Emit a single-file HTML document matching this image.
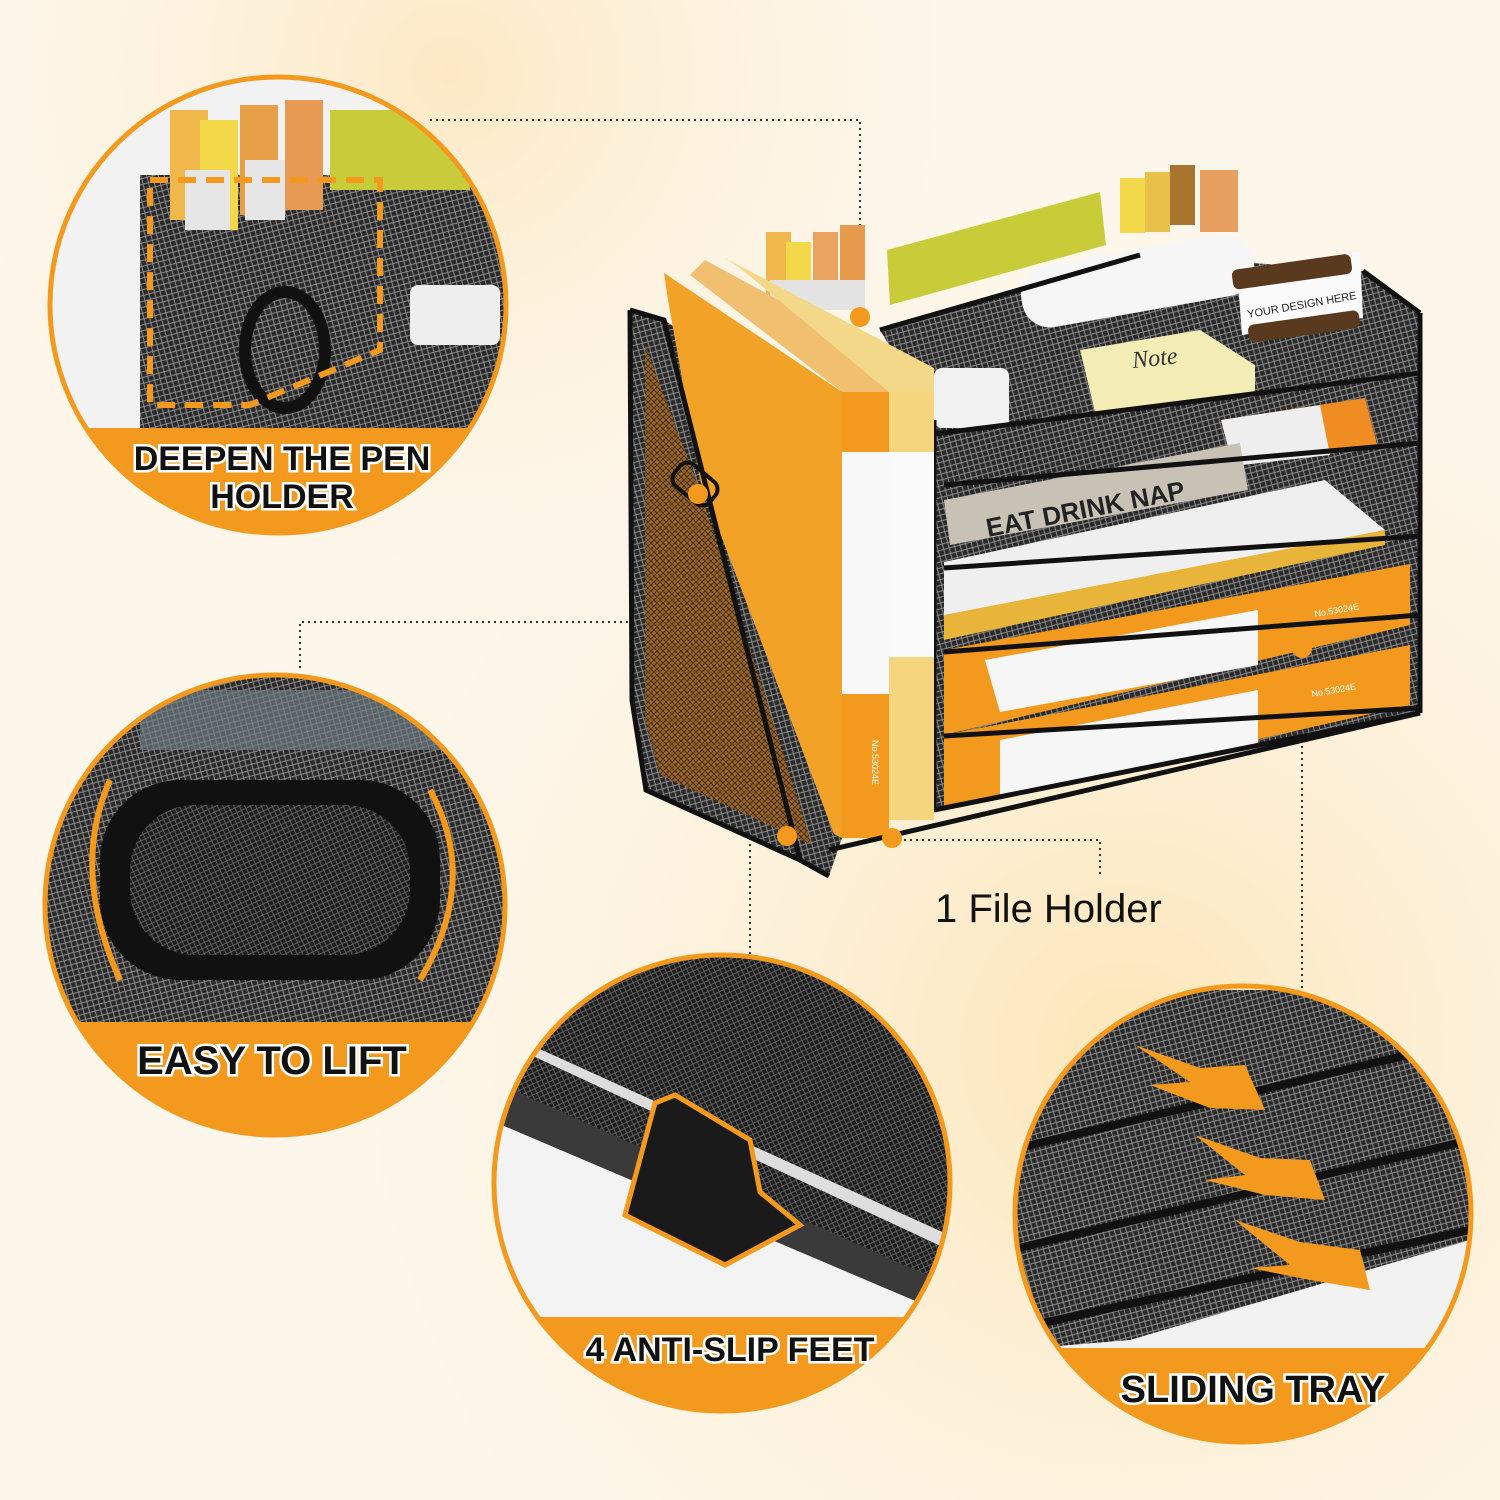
<!DOCTYPE html>
<html><head><meta charset="utf-8"><style>
html,body{margin:0;padding:0;width:1500px;height:1500px;overflow:hidden;background:#fdf6ea}
svg{display:block}
.lbl{font-family:"Liberation Sans",sans-serif;font-weight:bold;fill:#111;stroke:#fff;stroke-width:5px;paint-order:stroke;text-anchor:middle}
</style></head><body>
<svg width="1500" height="1500" viewBox="0 0 1500 1500" xmlns="http://www.w3.org/2000/svg">
<defs>
<radialGradient id="bg1" cx="0.75" cy="0.7" r="0.6"><stop offset="0" stop-color="#fde6b8"/><stop offset="1" stop-color="#fdf6ea" stop-opacity="0"/></radialGradient>
<radialGradient id="bg2" cx="0.3" cy="0.05" r="0.4"><stop offset="0" stop-color="#fde9c4"/><stop offset="1" stop-color="#fdf6ea" stop-opacity="0"/></radialGradient>
<pattern id="mesh" width="8" height="8" patternUnits="userSpaceOnUse" patternTransform="rotate(30)">
<rect width="8" height="8" fill="#2a2a2a"/><path d="M0 0L8 8M8 0L0 8" stroke="#8a8a8a" stroke-width="1"/></pattern>
<pattern id="meshd" width="7" height="7" patternUnits="userSpaceOnUse" patternTransform="rotate(20)">
<rect width="7" height="7" fill="#1e1e1e"/><path d="M0 0L7 7M7 0L0 7" stroke="#666" stroke-width="0.8"/></pattern>
<pattern id="mesho" width="6" height="6" patternUnits="userSpaceOnUse">
<rect width="6" height="6" fill="#a8661c"/><path d="M0 0L6 6M6 0L0 6" stroke="#3a2a18" stroke-width="0.8"/></pattern>
<clipPath id="c1"><circle cx="278" cy="305" r="228"/></clipPath>
<clipPath id="c2"><circle cx="275" cy="905" r="230"/></clipPath>
<clipPath id="c3"><circle cx="722" cy="1183" r="228"/></clipPath>
<clipPath id="c4"><circle cx="1243" cy="1214" r="228"/></clipPath>
</defs>
<rect width="1500" height="1500" fill="#fdf6ea"/>
<rect width="1500" height="1500" fill="url(#bg1)"/>
<rect width="1500" height="1500" fill="url(#bg2)"/>

<!-- connectors -->
<g stroke="#333" stroke-width="2" stroke-dasharray="2 4" fill="none">
<path d="M430 120H860V317"/>
<path d="M300 668V622H698V494"/>
<path d="M750 960V836H787"/>
<path d="M892 840H1100V875"/>
<path d="M1302 650V1000"/>
</g>

<!-- circle 1 -->
<g clip-path="url(#c1)">
<rect x="40" y="70" width="480" height="470" fill="#f2f2f2"/>
<rect x="140" y="175" width="380" height="255" fill="url(#mesh)"/>
<rect x="330" y="110" width="140" height="80" fill="#c9cc3a"/>
<rect x="170" y="110" width="38" height="110" fill="#f0b84a"/><rect x="200" y="120" width="38" height="110" fill="#f3d94a"/>
<rect x="240" y="105" width="38" height="110" fill="#e8a048"/><rect x="285" y="100" width="38" height="110" fill="#e79a54"/>
<rect x="185" y="170" width="45" height="60" fill="#e6e6e6"/><rect x="245" y="160" width="40" height="60" fill="#e6e6e6"/>
<rect x="410" y="285" width="90" height="60" rx="8" fill="#eee"/>
<ellipse cx="285" cy="350" rx="40" ry="58" fill="none" stroke="#111" stroke-width="12"/>
<path d="M150 180H380V350L250 405H150Z" fill="none" stroke="#f39a1e" stroke-width="6" stroke-dasharray="18 10"/>
<rect x="40" y="428" width="480" height="120" fill="#f39a1e"/>
</g>
<circle cx="278" cy="305" r="228" fill="none" stroke="#f39a1e" stroke-width="5"/>
<text class="lbl" x="282" y="470" font-size="34">DEEPEN THE PEN</text>
<text class="lbl" x="282" y="508" font-size="34">HOLDER</text>

<!-- circle 2 -->
<g clip-path="url(#c2)">
<rect x="40" y="670" width="480" height="480" fill="url(#mesh)"/>
<rect x="140" y="690" width="300" height="60" fill="#6e7a80" opacity="0.7"/>
<rect x="100" y="780" width="340" height="200" rx="80" fill="#111"/>
<rect x="130" y="805" width="280" height="150" rx="65" fill="url(#meshd)"/>
<path d="M110 780Q70 870 120 980" stroke="#f39a1e" stroke-width="6" fill="none"/>
<path d="M430 790Q480 880 420 980" stroke="#f39a1e" stroke-width="6" fill="none"/>
<rect x="40" y="1022" width="480" height="130" fill="#f39a1e"/>
</g>
<circle cx="275" cy="905" r="230" fill="none" stroke="#f39a1e" stroke-width="5"/>
<text class="lbl" x="272" y="1074" font-size="40">EASY TO LIFT</text>

<!-- circle 3 -->
<g clip-path="url(#c3)">
<rect x="490" y="950" width="470" height="470" fill="#f3f3f3"/>
<polygon points="490,950 960,950 960,1290 520,1095 490,1090" fill="url(#meshd)"/>
<polygon points="490,1080 960,1290 960,1320 490,1120" fill="#3a3a3a"/>
<polygon points="520,1040 960,1240 960,1255 520,1050" fill="#ddd"/>
<path d="M655 1103L675 1095L750 1140L760 1192L800 1225L725 1265L625 1215Z" fill="#1a1a1a" stroke="#f39a1e" stroke-width="5"/>
<rect x="480" y="1317" width="490" height="110" fill="#f39a1e"/>
</g>
<circle cx="722" cy="1183" r="228" fill="none" stroke="#f39a1e" stroke-width="5"/>
<text class="lbl" x="730" y="1361" font-size="34">4 ANTI-SLIP FEET</text>

<!-- circle 4 -->
<g clip-path="url(#c4)">
<rect x="1010" y="990" width="470" height="450" fill="url(#mesh)"/>
<polygon points="1130,1340 1470,1240 1470,1350 1010,1350" fill="#f2f2f2"/>
<path d="M1010 1150L1470 1040M1010 1250L1470 1140M1010 1330L1470 1230" stroke="#111" stroke-width="8"/>
<g fill="#f39a1e">
<polygon points="1135,1045 1200,1068 1245,1065 1265,1110 1210,1108 1150,1085 1190,1082"/>
<polygon points="1195,1135 1260,1158 1310,1160 1325,1200 1265,1195 1205,1180 1245,1175"/>
<polygon points="1235,1220 1300,1242 1360,1250 1370,1290 1310,1280 1250,1268 1290,1265"/>
</g>
<rect x="1000" y="1348" width="490" height="100" fill="#f39a1e"/>
</g>
<circle cx="1243" cy="1214" r="228" fill="none" stroke="#f39a1e" stroke-width="5"/>
<text class="lbl" x="1253" y="1402" font-size="38">SLIDING TRAY</text>

<!-- product -->
<g>
<!-- back/top mesh -->
<polygon points="880,330 1140,255 1363,271 1420,313 1420,713 934,810 934,420" fill="url(#mesh)"/>
<!-- pens/items -->
<rect x="766" y="232" width="25" height="70" fill="#f0b84a"/><rect x="786" y="242" width="25" height="70" fill="#f3d94a"/>
<rect x="813" y="232" width="25" height="70" fill="#e9a462"/><rect x="840" y="225" width="25" height="70" fill="#e89a4c"/>
<rect x="770" y="280" width="95" height="30" fill="#e3e3e3"/>
<polygon points="887,250 1100,192 1106,245 890,305" fill="#c8cc38"/>
<rect x="1120" y="178" width="25" height="55" fill="#f3d94a"/><rect x="1145" y="172" width="25" height="60" fill="#e8c04a"/>
<rect x="1170" y="165" width="25" height="60" fill="#a8752e"/><rect x="1200" y="170" width="38" height="62" fill="#e8a060"/>
<rect x="1020" y="250" width="235" height="62" rx="28" fill="#f6f6f6" transform="rotate(-10 1137 281)"/>
<polygon points="1237,270 1360,252 1363,318 1242,335" fill="#fafafa"/>
<rect x="1232" y="262" width="120" height="20" rx="6" fill="#5a3a1e" transform="rotate(-8 1290 272)"/>
<rect x="1248" y="318" width="112" height="18" rx="6" fill="#5a3a1e" transform="rotate(-8 1300 327)"/>
<text x="1248" y="318" font-family="Liberation Sans,sans-serif" font-size="11" fill="#222" transform="rotate(-10 1248 318)">YOUR DESIGN HERE</text>
<polygon points="1080,350 1200,330 1255,365 1255,395 1095,412" fill="#f3edb5"/>
<text x="1133" y="368" font-family="Liberation Serif,serif" font-style="italic" font-size="24" fill="#333" transform="rotate(-6 1133 368)">Note</text>
<rect x="934" y="368" width="75" height="60" rx="8" fill="#f2f2f2"/>
<polygon points="1221,420 1365,398 1378,448 1233,466" fill="#f08d22"/>
<polygon points="1221,420 1320,405 1330,455 1233,466" fill="#eee"/>
<!-- book -->
<polygon points="944,500 1240,443 1248,490 950,545" fill="#c8c2b6"/>
<text x="988" y="537" font-family="Liberation Sans,sans-serif" font-weight="bold" font-size="26" fill="#222" transform="rotate(-11 988 537)">EAT DRINK NAP</text>
<!-- paper -->
<polygon points="944,562 1325,480 1385,530 944,628" fill="#efefef"/>
<polygon points="944,615 1385,530 1385,545 944,640" fill="#e8b43a"/>
<!-- orange boxes -->
<polygon points="944,650 1410,564 1410,625 944,735" fill="#f39a1e"/>
<polygon points="985,660 1258,610 1258,665 1000,712" fill="#f6f6f6"/>
<polygon points="944,735 1410,645 1410,705 944,810" fill="#f39a1e"/>
<polygon points="1000,740 1258,690 1258,745 1000,795" fill="#f6f6f6"/>
<text x="1315" y="617" font-family="Liberation Sans,sans-serif" font-size="9" fill="#fff" transform="rotate(-10 1315 617)">No.53024E</text>
<text x="1312" y="697" font-family="Liberation Sans,sans-serif" font-size="9" fill="#fff" transform="rotate(-10 1312 697)">No.53024E</text>
<!-- tray rails -->
<g stroke="#111" stroke-width="5" fill="none">
<path d="M934 434L1420 373M944 485L1420 443M944 568L1420 536M944 652L1420 615M944 736L1420 708M934 810L1420 713"/>
<path d="M934 420V812M1420 313V713M880 330L1140 255M1363 271L1420 313"/>
</g>
<!-- left file holder mesh -->
<polygon points="630,310 664,320 842,440 842,838 829,876 800,860 646,790 632,700" fill="url(#mesh)"/>
<polygon points="645,345 700,490 812,845 660,775 645,720" fill="url(#mesho)" opacity="0.85"/>
<!-- files -->
<polygon points="705,260 889,360 889,392 842,392 690,275" fill="#f0c070"/>
<polygon points="725,258 934,368 934,392 889,392 740,268" fill="#f3d88a"/>
<polygon points="664,273 842,392 842,838 834,834 700,480 668,300" fill="#f2a227"/>
<rect x="842" y="392" width="47" height="446" fill="#f39a1e"/>
<rect x="842" y="452" width="47" height="242" fill="#f8f8f8"/>
<rect x="889" y="392" width="45" height="428" fill="#f5d57e"/>
<rect x="889" y="452" width="45" height="205" fill="#fafafa"/>
<text x="0" y="0" font-family="Liberation Sans,sans-serif" font-size="9" fill="#fff" transform="translate(872 740) rotate(90)">No.53024E</text>
<!-- frame lines -->
<path d="M630 310L664 320L800 860M630 310L632 700L646 790L800 860L829 876" stroke="#111" stroke-width="5" fill="none"/>
<path d="M829 850L1420 713" stroke="#111" stroke-width="5" fill="none"/>
<rect x="672" y="470" width="46" height="28" rx="10" fill="none" stroke="#111" stroke-width="4" transform="rotate(40 695 484)"/>
<!-- dots -->
<g fill="#f39a1e">
<circle cx="860" cy="317" r="10"/><circle cx="698" cy="494" r="10"/>
<circle cx="1302" cy="648" r="10"/><circle cx="787" cy="836" r="10"/><circle cx="892" cy="838" r="10"/>
</g>
</g>

<text x="935" y="922" font-family="Liberation Sans,sans-serif" font-size="40" fill="#111">1 File Holder</text>
</svg>
</body></html>
